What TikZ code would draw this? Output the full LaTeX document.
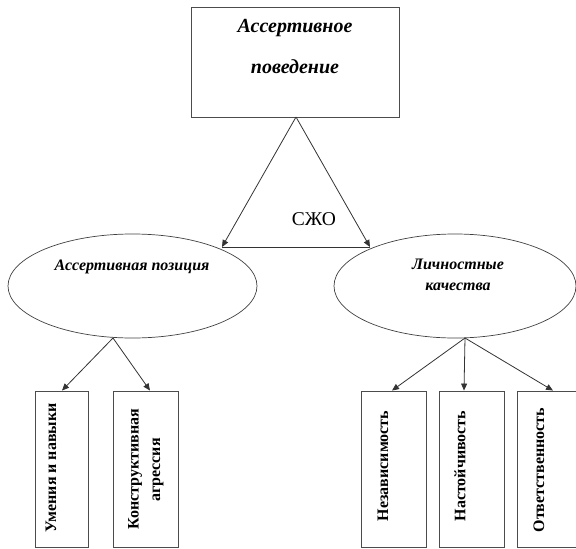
\documentclass[tikz,border=0pt]{standalone}
\usepackage{fontspec}
\setmainfont{Liberation Serif}
\usetikzlibrary{arrows.meta,shapes.geometric}
\begin{document}
\begin{tikzpicture}[x=1pt,y=-1pt,
  line/.style={draw=black!80,line width=0.8pt},
  arr/.style={line,-{Triangle[length=7pt,width=6pt]}},
  boxnode/.style={draw=black!70,line width=0.9pt,fill=white,minimum width=#1,inner sep=0pt},
  ell/.style={ellipse,draw=black!75,line width=0.7pt,inner sep=0pt},
  ttl/.style={font=\fontsize{20}{22}\selectfont\bfseries\itshape,anchor=base,inner sep=0pt},
  etxt/.style={font=\fontsize{16}{18}\selectfont\bfseries\itshape,anchor=base,inner sep=0pt},
  vtxt/.style={font=\fontsize{16}{18}\selectfont\bfseries,rotate=90,inner sep=0pt},
]
\useasboundingbox (0,0) rectangle (576,549);
% top box
\node[boxnode=208pt,minimum height=110pt] (top) at (295,62) {};
\node[ttl] (t1) at (295,32) {Ассертивное};
\node[ttl] (t2) at (295,73) {поведение};
% ellipses
\node[ell,minimum width=249pt,minimum height=104pt] (le) at (132.5,286) {};
\node[ell,minimum width=242pt,minimum height=104pt] (re) at (455,286) {};
\node[etxt] (lt) at (132,270) {Ассертивная позиция};
\node[etxt] (rt1) at (458,269) {Личностные};
\node[etxt] (rt2) at (458,290) {качества};
% triangle
\coordinate (apex) at (296,117);
\coordinate (tl) at (222,247);
\coordinate (tr) at (370,247);
\draw[arr] (apex) -- (tl);
\draw[arr] (apex) -- (tr);
\draw[line] (tl) -- (tr);
\node[font=\fontsize{19.5}{21}\selectfont,anchor=base,inner sep=0pt] (sjo) at (314,225) {СЖО};
% bottom boxes
\node[boxnode=53pt,minimum height=156pt] (b1) at (61.5,469) {};
\node[boxnode=65pt,minimum height=156pt] (b2) at (145.5,469) {};
\node[boxnode=65pt,minimum height=156pt] (b3) at (393.5,469) {};
\node[boxnode=65pt,minimum height=156pt] (b4) at (471.5,469) {};
\node[boxnode=80pt,minimum height=156pt] (b5) at (557,469) {};
\node[vtxt] (v1) at (51,468) {Умения и навыки};
\node[vtxt] (v2a) at (135,469) {Конструктивная};
\node[vtxt] (v2b) at (158,470) {агрессия};
\node[vtxt] (v3) at (383,466) {Независимость};
\node[vtxt] (v4) at (460,466) {Настойчивость};
\node[vtxt] (v5) at (539,470) {Ответственность};
% lower arrows
\coordinate (lb) at (113,338);
\coordinate (rb) at (465,338);
\draw[arr] (lb) -- (b1.north -| 62,0);
\draw[arr] (lb) -- (b2.north -| 150,0);
\draw[arr] (rb) -- (b3.north -| 392,0);
\draw[arr] (rb) -- (b4.north -| 464,0);
\draw[arr] (rb) -- (b5.north -| 553,0);
\end{tikzpicture}
\end{document}
